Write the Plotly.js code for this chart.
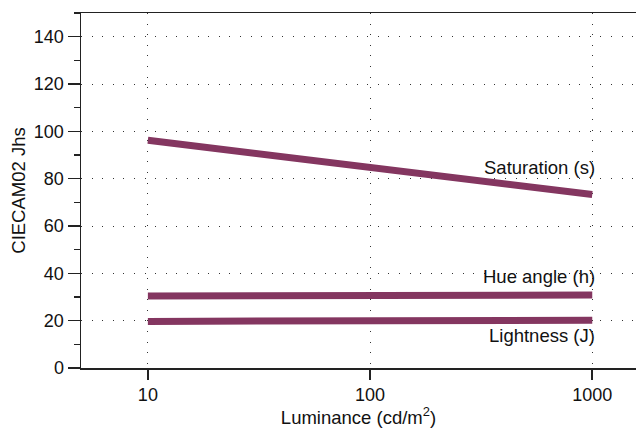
<!DOCTYPE html>
<html>
<head>
<meta charset="utf-8">
<script src="https://cdn.plot.ly/plotly-3.0.1.min.js"></script>
<style>html,body{margin:0;padding:0;background:#fff;}#chart{width:636px;height:428px;}</style>
</head>
<body>
<div id="chart"></div>
<script>
// Data
var luminance = [10, 100, 1000];
var saturation = [96.2, 84.7, 73.3];
var hueAngle = [30.4, 30.6, 30.8];
var lightness = [19.7, 19.9, 20.2];
var labels = ["Saturation (s)", "Hue angle (h)", "Lightness (J)"];
var labelY = [84.8, 38.5, 13.9];
var xTicks = [10, 100, 1000];
var yTicks = [0, 20, 40, 60, 80, 100, 120, 140];

var lineColor = 'rgb(132,54,96)';
var font = 'Liberation Sans, Arial, Helvetica, sans-serif';

function tr(y) {
  return {x: luminance, y: y, type: 'scatter', mode: 'lines',
          line: {color: lineColor, width: 7}, hoverinfo: 'skip'};
}

var data = [tr(saturation), tr(hueAngle), tr(lightness)];

var annotations = labels.map(function (t, i) {
  return {x: Math.log10(1000), y: labelY[i], xref: 'x', yref: 'y', text: t,
          showarrow: false, xanchor: 'right', yanchor: 'middle', xshift: 5,
          font: {family: font, size: 18.5, color: '#111'}};
});

var layout = {
  width: 636, height: 428,
  margin: {l: 81, r: 0, t: 13, b: 60},
  paper_bgcolor: '#fff', plot_bgcolor: '#fff',
  showlegend: false,
  font: {family: font, size: 18, color: '#111'},
  xaxis: {
    type: 'log', range: [Math.log10(5), 3.197],
    tickvals: xTicks, ticktext: xTicks.map(String),
    tickfont: {size: 18},
    ticks: 'outside', ticklen: 10, tickwidth: 1.5, tickcolor: '#222',
    showline: true, linecolor: '#222', linewidth: 1.5, mirror: true,
    showgrid: true, gridcolor: '#333', gridwidth: 1, griddash: '1px,9.6px',
    zeroline: false,
    title: {text: 'Luminance (cd/m<sup>2</sup>)', font: {size: 18.5}, standoff: 6}
  },
  yaxis: {
    range: [0, 150],
    tickvals: yTicks,
    tickfont: {size: 18},
    ticks: 'outside', ticklen: 12, tickwidth: 1.5, tickcolor: '#222',
    minor: {dtick: 10, ticks: 'outside', ticklen: 6, tickwidth: 1.5, tickcolor: '#222', showgrid: false},
    showline: true, linecolor: '#222', linewidth: 1.5,
    showgrid: true, gridcolor: '#333', gridwidth: 1, griddash: '1px,9.6px',
    zeroline: false,
    title: {text: 'CIECAM02 Jhs', font: {size: 18.5}, standoff: 3}
  },
  annotations: annotations
};

Plotly.newPlot('chart', data, layout, {displayModeBar: false, staticPlot: true});
</script>
</body>
</html>
